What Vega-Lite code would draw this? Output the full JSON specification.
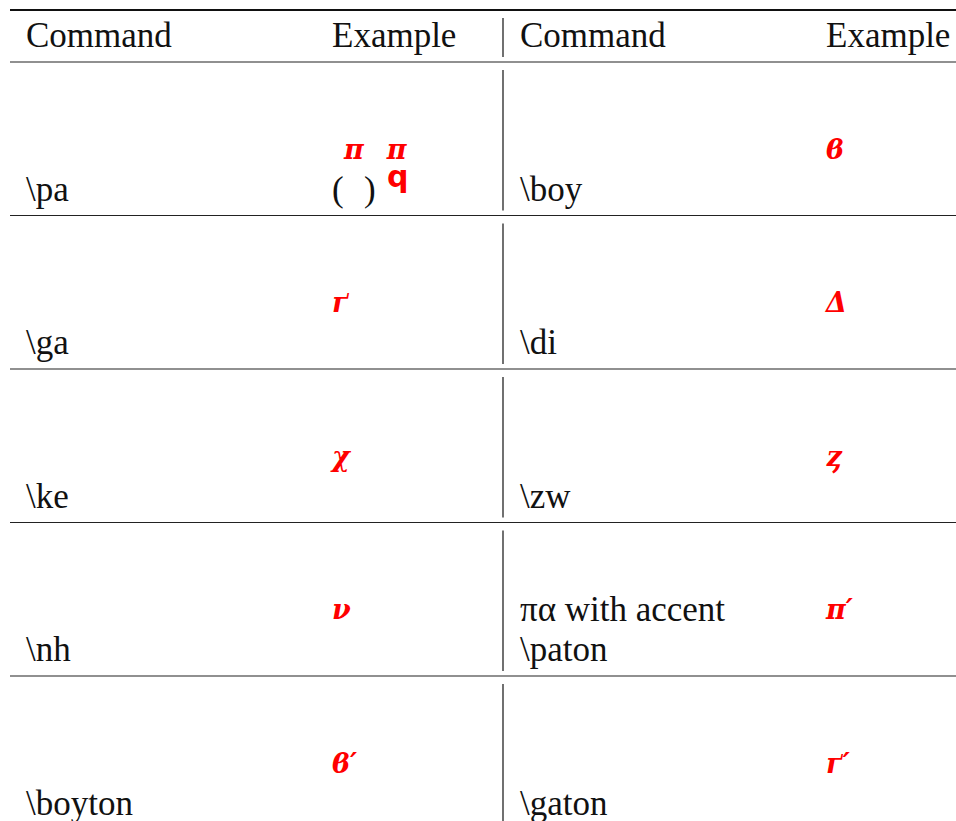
{
  "$schema": "https://vega.github.io/schema/vega-lite/v6.json",
  "width": 946,
  "height": 821,
  "padding": {"left": 10, "top": 0, "right": 0, "bottom": 0},
  "autosize": {"type": "none"},
  "background": "white",
  "config": {
    "view": {"stroke": null},
    "axis": {"disable": true},
    "legend": {"disable": true}
  },
  "datasets": {
    "header": [
      {"row": "header", "half": "L", "col": "Command", "text": "Command"},
      {"row": "header", "half": "L", "col": "Example", "text": "Example"},
      {"row": "header", "half": "R", "col": "Command", "text": "Command"},
      {"row": "header", "half": "R", "col": "Example", "text": "Example"}
    ],
    "cells": [
      {"row": 0, "half": "L", "col": "Command", "line": 2, "kind": "text", "text": "\\pa"},
      {"row": 0, "half": "L", "col": "Example", "line": 2, "kind": "text", "text": "(\u2002\u200a)"},
      {"row": 0, "half": "L", "col": "Example", "line": 1, "kind": "symbol", "text": "\u200b\u00a0\u200aπ\u2002\u00a0π"},
      {"row": 0, "half": "L", "col": "Example", "line": 2, "kind": "symbol", "text": "q"},
      {"row": 0, "half": "R", "col": "Command", "line": 2, "kind": "text", "text": "\\boy"},
      {"row": 0, "half": "R", "col": "Example", "line": 1, "kind": "symbol", "text": "ϐ"},
      {"row": 1, "half": "L", "col": "Command", "line": 2, "kind": "text", "text": "\\ga"},
      {"row": 1, "half": "L", "col": "Example", "line": 1, "kind": "symbol", "text": "ґ"},
      {"row": 1, "half": "R", "col": "Command", "line": 2, "kind": "text", "text": "\\di"},
      {"row": 1, "half": "R", "col": "Example", "line": 1, "kind": "symbol", "text": "Δ"},
      {"row": 2, "half": "L", "col": "Command", "line": 2, "kind": "text", "text": "\\ke"},
      {"row": 2, "half": "L", "col": "Example", "line": 1, "kind": "symbol", "text": "χ"},
      {"row": 2, "half": "R", "col": "Command", "line": 2, "kind": "text", "text": "\\zw"},
      {"row": 2, "half": "R", "col": "Example", "line": 1, "kind": "symbol", "text": "ȥ"},
      {"row": 3, "half": "L", "col": "Command", "line": 2, "kind": "text", "text": "\\nh"},
      {"row": 3, "half": "L", "col": "Example", "line": 1, "kind": "symbol", "text": "ν"},
      {"row": 3, "half": "R", "col": "Command", "line": 1, "kind": "text", "text": "πα with accent"},
      {"row": 3, "half": "R", "col": "Command", "line": 2, "kind": "text", "text": "\\paton"},
      {"row": 3, "half": "R", "col": "Example", "line": 1, "kind": "symbol", "text": "π′"},
      {"row": 4, "half": "L", "col": "Command", "line": 2, "kind": "text", "text": "\\boyton"},
      {"row": 4, "half": "L", "col": "Example", "line": 1, "kind": "symbol", "text": "ϐ′"},
      {"row": 4, "half": "R", "col": "Command", "line": 2, "kind": "text", "text": "\\gaton"},
      {"row": 4, "half": "R", "col": "Example", "line": 1, "kind": "symbol", "text": "ґ′"}
    ],
    "rows": [
      {"row": 0}, {"row": 1}, {"row": 2}, {"row": 3}, {"row": 4}
    ],
    "separators": [
      {"row": 1}, {"row": 2}, {"row": 3}, {"row": 4}
    ]
  },
  "resolve": {"scale": {"x": "independent", "y": "independent"}},
  "layer": [
    {
      "data": {"name": "header"},
      "transform": [{"filter": "datum.half === 'L' && datum.col === 'Command'"}],
      "mark": {"type": "rule", "stroke": "#111111", "strokeWidth": 2},
      "encoding": {
        "y": {"field": "row", "type": "nominal", "bandPosition": 0,
              "scale": {"type": "band", "domain": ["header"], "range": [10, 62], "paddingInner": 0, "paddingOuter": 0}}
      }
    },
    {
      "data": {"name": "header"},
      "transform": [{"filter": "datum.half === 'L' && datum.col === 'Command'"}],
      "mark": {"type": "rule", "stroke": "#222222", "strokeWidth": 1.2},
      "encoding": {
        "y": {"field": "row", "type": "nominal", "bandPosition": 1,
              "scale": {"type": "band", "domain": ["header"], "range": [10, 62], "paddingInner": 0, "paddingOuter": 0}}
      }
    },
    {
      "data": {"name": "separators"},
      "mark": {"type": "rule", "stroke": "#222222", "strokeWidth": 1.2},
      "encoding": {
        "y": {"field": "row", "type": "ordinal", "bandPosition": 0,
              "scale": {"type": "band", "domain": [0, 1, 2, 3, 4], "range": [62, 829.5], "paddingInner": 0, "paddingOuter": 0}}
      }
    },
    {
      "data": {"name": "header"},
      "transform": [{"filter": "datum.half === 'L' && datum.col === 'Command'"}],
      "mark": {"type": "rect", "color": "#111111"},
      "encoding": {
        "x": {"datum": "divider", "type": "nominal",
              "scale": {"type": "band", "domain": ["divider"], "range": [492.4, 493.6], "paddingInner": 0, "paddingOuter": 0}},
        "y": {"field": "row", "type": "nominal",
              "scale": {"type": "band", "domain": ["header"], "range": [18, 57], "paddingInner": 0, "paddingOuter": 0}}
      }
    },
    {
      "data": {"name": "rows"},
      "mark": {"type": "rect", "color": "#111111"},
      "encoding": {
        "x": {"datum": "divider", "type": "nominal",
              "scale": {"type": "band", "domain": ["divider"], "range": [492.4, 493.6], "paddingInner": 0, "paddingOuter": 0}},
        "y": {"field": "row", "type": "ordinal",
              "scale": {"type": "band", "domain": [0, 1, 2, 3, 4], "range": [62, 829.5], "paddingInner": 0.08469, "paddingOuter": 0.042345, "align": 0.6154}}
      }
    },
    {
      "data": {"name": "header"},
      "transform": [{"filter": "datum.half === 'L'"}],
      "mark": {"type": "text", "font": "Liberation Serif", "fontSize": 35, "align": "left", "baseline": "alphabetic", "dx": 16, "dy": -15, "color": "#111111"},
      "encoding": {
        "x": {"field": "col", "type": "nominal", "bandPosition": 0,
              "scale": {"type": "band", "domain": ["Command", "Example"], "range": [0, 612], "paddingInner": 0, "paddingOuter": 0}},
        "y": {"field": "row", "type": "nominal", "bandPosition": 1,
              "scale": {"type": "band", "domain": ["header"], "range": [10, 62], "paddingInner": 0, "paddingOuter": 0}},
        "text": {"field": "text"}
      }
    },
    {
      "data": {"name": "header"},
      "transform": [{"filter": "datum.half === 'R'"}],
      "mark": {"type": "text", "font": "Liberation Serif", "fontSize": 35, "align": "left", "baseline": "alphabetic", "dx": 17, "dy": -15, "color": "#111111"},
      "encoding": {
        "x": {"field": "col", "type": "nominal", "bandPosition": 0,
              "scale": {"type": "band", "domain": ["Command", "Example"], "range": [493, 1105], "paddingInner": 0, "paddingOuter": 0}},
        "y": {"field": "row", "type": "nominal", "bandPosition": 1,
              "scale": {"type": "band", "domain": ["header"], "range": [10, 62], "paddingInner": 0, "paddingOuter": 0}},
        "text": {"field": "text"}
      }
    },
    {
      "data": {"name": "cells"},
      "transform": [{"filter": "datum.half === 'L' && datum.kind === 'text' && datum.line === 2"}],
      "mark": {"type": "text", "font": "Liberation Serif", "fontSize": 35, "align": "left", "baseline": "alphabetic", "dx": 16, "dy": -15, "color": "#111111"},
      "encoding": {
        "x": {"field": "col", "type": "nominal", "bandPosition": 0,
              "scale": {"type": "band", "domain": ["Command", "Example"], "range": [0, 612], "paddingInner": 0, "paddingOuter": 0}},
        "y": {"field": "row", "type": "ordinal", "bandPosition": 1,
              "scale": {"type": "band", "domain": [0, 1, 2, 3, 4], "range": [62, 829.5], "paddingInner": 0, "paddingOuter": 0}},
        "text": {"field": "text"}
      }
    },
    {
      "data": {"name": "cells"},
      "transform": [{"filter": "datum.half === 'R' && datum.kind === 'text' && datum.line === 2"}],
      "mark": {"type": "text", "font": "Liberation Serif", "fontSize": 35, "align": "left", "baseline": "alphabetic", "dx": 17, "dy": -15, "color": "#111111"},
      "encoding": {
        "x": {"field": "col", "type": "nominal", "bandPosition": 0,
              "scale": {"type": "band", "domain": ["Command", "Example"], "range": [493, 1105], "paddingInner": 0, "paddingOuter": 0}},
        "y": {"field": "row", "type": "ordinal", "bandPosition": 1,
              "scale": {"type": "band", "domain": [0, 1, 2, 3, 4], "range": [62, 829.5], "paddingInner": 0, "paddingOuter": 0}},
        "text": {"field": "text"}
      }
    },
    {
      "data": {"name": "cells"},
      "transform": [{"filter": "datum.half === 'R' && datum.kind === 'text' && datum.line === 1"}],
      "mark": {"type": "text", "font": "Liberation Serif", "fontSize": 35, "align": "left", "baseline": "alphabetic", "dx": 17, "dy": -55, "color": "#111111"},
      "encoding": {
        "x": {"field": "col", "type": "nominal", "bandPosition": 0,
              "scale": {"type": "band", "domain": ["Command", "Example"], "range": [493, 1105], "paddingInner": 0, "paddingOuter": 0}},
        "y": {"field": "row", "type": "ordinal", "bandPosition": 1,
              "scale": {"type": "band", "domain": [0, 1, 2, 3, 4], "range": [62, 829.5], "paddingInner": 0, "paddingOuter": 0}},
        "text": {"field": "text"}
      }
    },
    {
      "data": {"name": "cells"},
      "transform": [{"filter": "datum.half === 'L' && datum.kind === 'symbol' && datum.line === 1"}],
      "mark": {"type": "text", "font": "DejaVu Serif", "fontWeight": "bold", "fontStyle": "italic", "fontSize": 27, "align": "left", "baseline": "alphabetic", "dx": 16, "dy": -57, "color": "#ff0000"},
      "encoding": {
        "x": {"field": "col", "type": "nominal", "bandPosition": 0,
              "scale": {"type": "band", "domain": ["Command", "Example"], "range": [0, 612], "paddingInner": 0, "paddingOuter": 0}},
        "y": {"field": "row", "type": "ordinal", "bandPosition": 1,
              "scale": {"type": "band", "domain": [0, 1, 2, 3, 4], "range": [62, 829.5], "paddingInner": 0, "paddingOuter": 0}},
        "text": {"field": "text"}
      }
    },
    {
      "data": {"name": "cells"},
      "transform": [{"filter": "datum.half === 'L' && datum.kind === 'symbol' && datum.line === 2"}],
      "mark": {"type": "text", "font": "DejaVu Sans", "fontWeight": "bold", "fontSize": 30, "align": "left", "baseline": "alphabetic", "dx": 71, "dy": -29, "color": "#ff0000"},
      "encoding": {
        "x": {"field": "col", "type": "nominal", "bandPosition": 0,
              "scale": {"type": "band", "domain": ["Command", "Example"], "range": [0, 612], "paddingInner": 0, "paddingOuter": 0}},
        "y": {"field": "row", "type": "ordinal", "bandPosition": 1,
              "scale": {"type": "band", "domain": [0, 1, 2, 3, 4], "range": [62, 829.5], "paddingInner": 0, "paddingOuter": 0}},
        "text": {"field": "text"}
      }
    },
    {
      "data": {"name": "cells"},
      "transform": [{"filter": "datum.half === 'R' && datum.kind === 'symbol' && datum.line === 1"}],
      "mark": {"type": "text", "font": "DejaVu Serif", "fontWeight": "bold", "fontStyle": "italic", "fontSize": 27, "align": "left", "baseline": "alphabetic", "dx": 17, "dy": -57, "color": "#ff0000"},
      "encoding": {
        "x": {"field": "col", "type": "nominal", "bandPosition": 0,
              "scale": {"type": "band", "domain": ["Command", "Example"], "range": [493, 1105], "paddingInner": 0, "paddingOuter": 0}},
        "y": {"field": "row", "type": "ordinal", "bandPosition": 1,
              "scale": {"type": "band", "domain": [0, 1, 2, 3, 4], "range": [62, 829.5], "paddingInner": 0, "paddingOuter": 0}},
        "text": {"field": "text"}
      }
    }
  ]
}
